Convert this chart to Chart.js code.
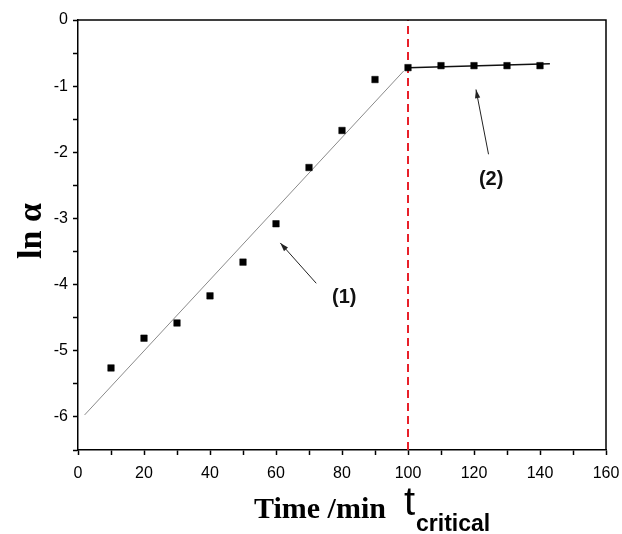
<!DOCTYPE html>
<html>
<head>
<meta charset="utf-8">
<script src="https://cdn.jsdelivr.net/npm/chart.js@4.4.1/dist/chart.umd.min.js"></script>
<style>
  html, body { margin: 0; padding: 0; background: #ffffff; }
  #wrap { width: 622px; height: 534px; position: relative; }
</style>
</head>
<body>
<div id="wrap"><canvas id="chart" width="622" height="534"></canvas></div>
<script>
// measured ln(alpha) values vs time (min)
const timeMin = [10, 20, 30, 40, 50, 60, 70, 80, 90, 100, 110, 120, 130, 140];
const lnAlpha = [-5.26, -4.81, -4.58, -4.17, -3.66, -3.08, -2.23, -1.67, -0.90, -0.72, -0.69, -0.69, -0.69, -0.69];

// fitted lines, endpoints
const fit1X = [2, 98.7];
const fit1Y = [-5.97, -0.77];
const fit2X = [100, 143];
const fit2Y = [-0.72, -0.66];

// critical time marker
const tCritical = 100;
const yRange = [-6.5, 0];

const xTicks = [0, 20, 40, 60, 80, 100, 120, 140, 160];
const yTicks = [0, -1, -2, -3, -4, -5, -6];

const toPoints = (xs, ys) => xs.map((x, i) => ({ x: x, y: ys[i] }));

// arrows and labels for (1) and (2), in data coordinates
const notes = [
  { label: '(1)', lx: 80.7, ly: -4.20, from: [72.2, -3.98], to: [61.3, -3.37] },
  { label: '(2)', lx: 125.2, ly: -2.41, from: [124.4, -2.03], to: [120.6, -1.05] }
];

const extras = {
  id: 'extras',
  afterDraw(chart) {
    const { ctx, chartArea: a, scales: { x, y } } = chart;
    ctx.save();
    // frame top and right
    ctx.strokeStyle = '#000';
    ctx.lineWidth = 1.5;
    ctx.beginPath();
    ctx.moveTo(a.left, a.top);
    ctx.lineTo(a.right, a.top);
    ctx.lineTo(a.right, a.bottom);
    ctx.stroke();

    // arrows
    notes.forEach(n => {
      const x1 = x.getPixelForValue(n.from[0]), y1 = y.getPixelForValue(n.from[1]);
      const x2 = x.getPixelForValue(n.to[0]), y2 = y.getPixelForValue(n.to[1]);
      ctx.strokeStyle = '#222';
      ctx.lineWidth = 1;
      ctx.beginPath();
      ctx.moveTo(x1, y1);
      ctx.lineTo(x2, y2);
      ctx.stroke();
      const ang = Math.atan2(y2 - y1, x2 - x1);
      const len = 9, w = 0.3;
      ctx.fillStyle = '#222';
      ctx.beginPath();
      ctx.moveTo(x2, y2);
      ctx.lineTo(x2 - len * Math.cos(ang - w), y2 - len * Math.sin(ang - w));
      ctx.lineTo(x2 - len * Math.cos(ang + w), y2 - len * Math.sin(ang + w));
      ctx.closePath();
      ctx.fill();

      ctx.fillStyle = '#111';
      ctx.font = 'bold 20px "Liberation Sans", Arial, sans-serif';
      ctx.textAlign = 'center';
      ctx.textBaseline = 'middle';
      ctx.fillText(n.label, x.getPixelForValue(n.lx), y.getPixelForValue(n.ly));
    });

    // axis titles
    ctx.fillStyle = '#000';
    ctx.textBaseline = 'alphabetic';
    ctx.save();
    ctx.translate(41, 231);
    ctx.rotate(-Math.PI / 2);
    ctx.textAlign = 'center';
    ctx.font = 'bold 34px "Liberation Serif", "Times New Roman", serif';
    ctx.fillText('ln α', 0, 0);
    ctx.restore();

    ctx.textAlign = 'left';
    ctx.font = 'bold 30px "Liberation Serif", "Times New Roman", serif';
    ctx.fillText('Time /min', 254, 518);
    ctx.font = '40px "Liberation Sans", Arial, sans-serif';
    ctx.fillText('t', 404, 515);
    ctx.font = 'bold 23px "Liberation Sans", Arial, sans-serif';
    ctx.fillText('critical', 416, 531);
    ctx.restore();
  }
};

new Chart(document.getElementById('chart'), {
  type: 'scatter',
  data: {
    datasets: [
      {
        label: 'fit (1)',
        data: toPoints(fit1X, fit1Y),
        showLine: true,
        borderColor: '#8a8a8a',
        borderWidth: 1,
        pointRadius: 0,
        order: 3
      },
      {
        label: 'fit (2)',
        data: toPoints(fit2X, fit2Y),
        showLine: true,
        borderColor: '#111',
        borderWidth: 1.5,
        pointRadius: 0,
        order: 2
      },
      {
        label: 't critical',
        data: toPoints([tCritical, tCritical], yRange),
        showLine: true,
        borderColor: '#e8202a',
        borderWidth: 2,
        borderDash: [8, 5],
        pointRadius: 0,
        order: 4
      },
      {
        label: 'ln alpha',
        data: toPoints(timeMin, lnAlpha),
        pointStyle: 'rect',
        pointRadius: 4.6,
        backgroundColor: '#000',
        borderColor: '#000',
        borderWidth: 0.5,
        order: 1
      }
    ]
  },
  options: {
    responsive: false,
    animation: false,
    layout: { padding: { top: 20, right: 16, left: 0, bottom: 0 } },
    plugins: { legend: { display: false }, tooltip: { enabled: false } },
    scales: {
      x: {
        type: 'linear',
        min: 0,
        max: 160,
        afterFit: s => { s.height = 84; s.paddingLeft = 0; s.paddingRight = 0; },
        border: { color: '#000', width: 1.5 },
        grid: { drawOnChartArea: false, tickLength: 5, tickColor: '#000', tickWidth: 1.5 },
        ticks: {
          stepSize: 10,
          padding: 9,
          color: '#000',
          maxRotation: 0,
          autoSkip: false,
          font: { family: '"Liberation Sans", Arial, sans-serif', size: 16 },
          callback: v => xTicks.includes(v) ? String(v) : ''
        }
      },
      y: {
        type: 'linear',
        min: yRange[0],
        max: yRange[1],
        afterFit: s => { s.width = 78; s.paddingTop = 0; s.paddingBottom = 0; },
        border: { color: '#000', width: 1.5 },
        grid: { drawOnChartArea: false, tickLength: 5, tickColor: '#000', tickWidth: 1.5 },
        ticks: {
          stepSize: 0.5,
          padding: 5,
          color: '#000',
          autoSkip: false,
          font: { family: '"Liberation Sans", Arial, sans-serif', size: 16 },
          callback: v => yTicks.includes(v) ? String(v) : ''
        }
      }
    }
  },
  plugins: [extras]
});
</script>
</body>
</html>
